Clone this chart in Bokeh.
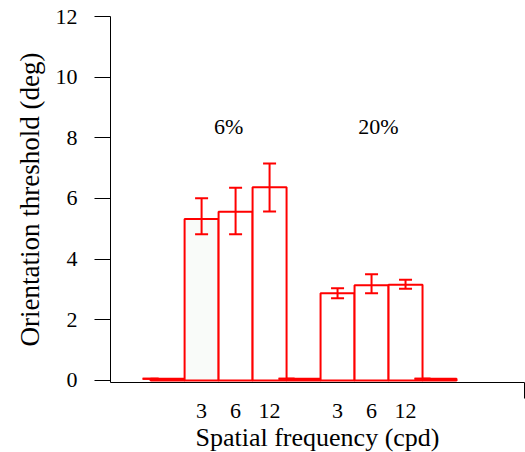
from bokeh.plotting import figure
from bokeh.models import FixedTicker, Whisker, ColumnDataSource, TeeHead, Range1d
from bokeh.core.properties import value
from bokeh.embed import file_html
from bokeh.resources import INLINE

# ---- data ----
freq_labels = ["3", "6", "12"]
contrast_labels = ["6%", "20%"]
mean_6 = [5.32, 5.56, 6.37]
lower_6 = [4.82, 4.82, 5.57]
upper_6 = [6.01, 6.35, 7.15]
mean_20 = [2.87, 3.14, 3.15]
lower_20 = [2.71, 2.87, 3.02]
upper_20 = [3.04, 3.50, 3.32]
zero_vals = [0.05, 0.05, 0.05]

slots_6 = [1, 2, 3]
slots_20 = [5, 6, 7]
slots_zero = [0, 4, 8]

FONT = "Liberation Serif"
RED = "#ff0000"

p = figure(frame_width=414, frame_height=366, output_backend="svg", toolbar_location=None,
           x_range=Range1d(-1.68, 10.5), y_range=Range1d(-0.07, 12.0),
           min_border_left=110, min_border_right=1, min_border_top=16, min_border_bottom=66)
p.outline_line_color = None
p.xgrid.grid_line_color = None
p.ygrid.grid_line_color = None

xs = slots_6 + slots_20
means = mean_6 + mean_20
lowers = lower_6 + lower_20
uppers = upper_6 + upper_20
fills = ["#f9fbf9"] + ["white"] * 5

# zero bars
p.quad(left=[s - 0.5 for s in slots_zero], right=[s + 0.5 for s in slots_zero],
       bottom=0, top=zero_vals, fill_color="white", line_color=RED, line_width=2)
zsrc = ColumnDataSource(dict(base=[s - 0.5 for s in slots_zero], lower=zero_vals, upper=zero_vals))
p.add_layout(Whisker(source=zsrc, base="base", lower="lower", upper="upper",
                     line_color=RED, line_width=2, level="overlay",
                     upper_head=TeeHead(size=16, line_color=RED, line_width=2),
                     lower_head=TeeHead(size=16, line_color=RED, line_width=2)))

src = ColumnDataSource(dict(x=xs, top=means, lower=lowers, upper=uppers,
                            left=[x - 0.5 for x in xs], right=[x + 0.5 for x in xs], fill=fills))
p.quad(left="left", right="right", bottom=0, top="top", source=src,
       fill_color="fill", line_color=RED, line_width=2)
p.add_layout(Whisker(source=src, base="x", lower="lower", upper="upper",
                     line_color=RED, line_width=2, level="overlay",
                     upper_head=TeeHead(size=13, line_color=RED, line_width=2),
                     lower_head=TeeHead(size=13, line_color=RED, line_width=2)))

# group labels
p.text(x=[1.8, 6.2], y=[8.37, 8.37], text=contrast_labels, text_align="center",
       text_baseline="middle", text_font=value(FONT), text_font_size="22px", text_color="black")

# y axis
ya = p.yaxis[0]
ya.ticker = FixedTicker(ticks=[0, 2, 4, 6, 8, 10, 12])
ya.major_tick_out = 16
ya.major_tick_in = 0
ya.minor_tick_out = 0
ya.minor_tick_in = 0
ya.major_label_standoff = 17
ya.major_label_text_font = FONT
ya.major_label_text_font_size = "22px"
ya.major_label_text_color = "black"
ya.axis_label = "Orientation threshold (deg)"
ya.axis_label_text_font = FONT
ya.axis_label_text_font_style = "normal"
ya.axis_label_text_font_size = "27px"
ya.axis_label_text_color = "black"
ya.axis_label_standoff = 8
ya.axis_line_color = "black"
ya.major_tick_line_color = "black"

# x axis
xa = p.xaxis[0]
xa.ticker = FixedTicker(ticks=slots_6 + slots_20, minor_ticks=[10.5])
xa.major_label_overrides = {s: f for s, f in zip(slots_6 + slots_20, freq_labels * 2)}
xa.major_tick_out = 0
xa.major_tick_in = 0
xa.minor_tick_out = 16
xa.minor_tick_in = 0
xa.minor_tick_line_color = "black"
xa.major_label_standoff = 5
xa.major_label_text_font = FONT
xa.major_label_text_font_size = "22px"
xa.major_label_text_color = "black"
xa.axis_label = "Spatial frequency (cpd)"
xa.axis_label_text_font = FONT
xa.axis_label_text_font_style = "normal"
xa.axis_label_text_font_size = "26px"
xa.axis_label_text_color = "black"
xa.axis_label_standoff = 2
xa.axis_line_color = "black"

open("out.html", "w").write(file_html(p, INLINE))
